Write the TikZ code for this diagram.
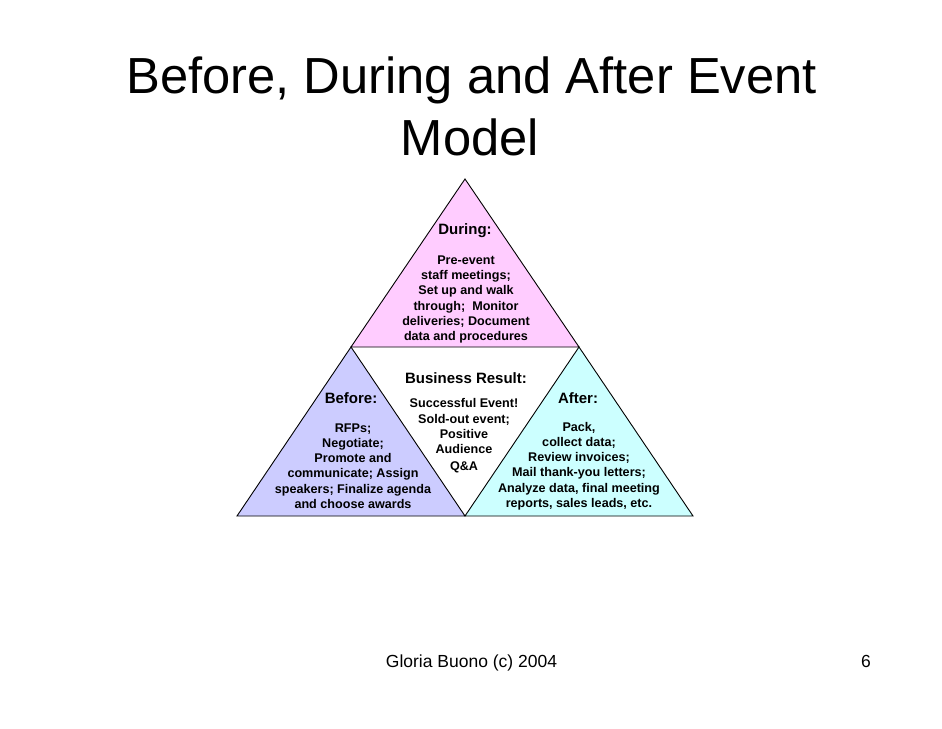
\documentclass[tikz,border=0pt]{standalone}
\usepackage{fontspec}
\setmainfont{Liberation Sans}
\definecolor{pinkfill}{HTML}{FFCCFF}
\definecolor{bluefill}{HTML}{CCCCFF}
\definecolor{cyanfill}{HTML}{CCFFFF}
\begin{document}
\begin{tikzpicture}[x=1pt,y=-1pt,
  tri/.style={draw=black,line width=0.9pt,line join=miter},
  head/.style={font=\fontsize{15}{17}\selectfont\bfseries,inner sep=0pt},
  body/.style={font=\fontsize{12.6}{15.2}\selectfont\bfseries,align=center,inner sep=0pt},
  titletxt/.style={font=\fontsize{50.7}{61}\selectfont,inner sep=0pt,anchor=base},
  foot/.style={font=\fontsize{17.5}{20}\selectfont,inner sep=0pt,anchor=base}]
\useasboundingbox (0,0) rectangle (942,728);
\fill[white] (0,0) rectangle (942,728);
% coordinates of the triangles
\coordinate (A) at (465,179);
\coordinate (L) at (351,347);
\coordinate (R) at (579,347);
\coordinate (BL) at (237,516);
\coordinate (BM) at (465,516);
\coordinate (BR) at (693,516);
\draw[tri,fill=pinkfill] (A) -- (R) -- (L) -- cycle;
\draw[tri,fill=bluefill] (L) -- (BM) -- (BL) -- cycle;
\draw[tri,fill=cyanfill] (R) -- (BR) -- (BM) -- cycle;
% title
\node[titletxt] (t1) at (471.5,93) {Before, During and After Event};
\node[titletxt] (t2) at (470,155) {Model};
% top
\node[head] (dh) at (465,231) {During:};
\node[body] (db) at (466,299.5) {Pre-event\\staff meetings;\\Set up and walk\\through;\ \ Monitor\\deliveries; Document\\data and procedures};
% left
\node[head] (bh) at (351,398) {Before:};
\node[body] (bb) at (353,466) {RFPs;\\Negotiate;\\Promote and\\communicate; Assign\\speakers; Finalize agenda\\and choose awards};
% right
\node[head] (ah) at (578,398) {After:};
\node[body] (ab) at (579,466) {Pack,\\collect data;\\Review invoices;\\Mail thank-you letters;\\Analyze data, final meeting\\reports, sales leads, etc.};
% middle
\node[head] (rh) at (466,378) {Business Result:};
\node[body] (rb) at (464,436) {Successful Event!\\Sold-out event;\\Positive\\Audience\\[2pt]Q\&A};
% footer
\node[foot] (f1) at (471.5,667) {Gloria Buono (c) 2004};
\node[foot] (f2) at (866,667) {6};
\end{tikzpicture}
\end{document}
